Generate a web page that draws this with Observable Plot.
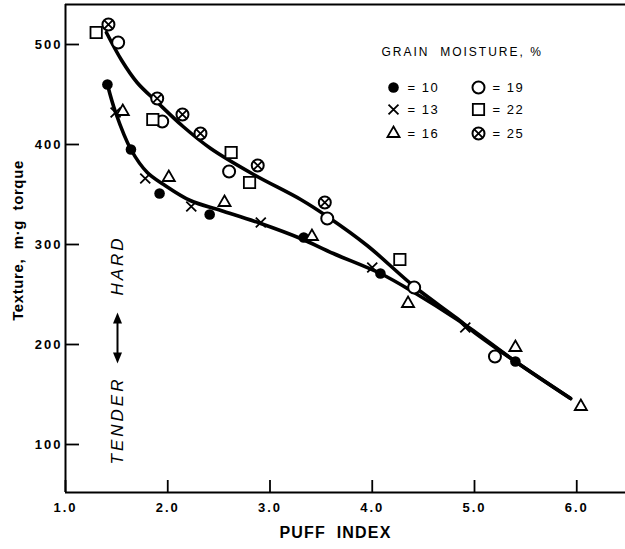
<!DOCTYPE html>
<html><head><meta charset="utf-8">
<script src="https://cdn.jsdelivr.net/npm/d3@7"></script>
<script src="https://cdn.jsdelivr.net/npm/@observablehq/plot@0.6"></script>
<style>body{margin:0;background:#fff}</style>
</head><body><div id="chart"></div>
<script>
// ---- data ----
const xTicks = [1, 2, 3, 4, 5, 6];
const yTicks = [100, 200, 300, 400, 500];

// [puff index, texture]
const moist10 = [[1.41,460],[1.64,395],[1.92,351],[2.41,330],[3.33,307],[4.08,271],[5.40,183]];
const moist13 = [[1.49,432],[1.78,366],[2.23,338],[2.91,322],[4.00,277],[4.91,217]];
const moist16 = [[1.56,433],[2.01,367],[2.555,342],[3.41,308],[4.35,241],[5.40,197],[6.04,138]];
const moist19 = [[1.515,502],[1.946,423],[2.60,373],[3.56,326],[4.41,257],[5.20,188]];
const moist22 = [[1.30,512],[1.854,425],[2.62,392],[2.80,362],[4.27,285]];
const moist25 = [[1.42,520],[1.897,446],[2.144,430],[2.32,411],[2.88,379],[3.536,342]];

const upperCurve = [[1.40,512],[1.55,484],[1.70,462],[1.90,442],[2.15,418],[2.42,396],[2.84,370],[3.30,345],[3.56,328],[3.95,299],[4.41,258],[4.83,226],[5.00,212],[5.40,183],[5.94,146]];
const lowerCurve = [[1.41,460],[1.49,432],[1.64,395],[1.80,372],[1.96,360],[2.22,344],[2.52,334],[2.91,321],[3.30,306],[3.62,291],[4.08,271],[4.41,252],[4.83,225],[5.00,213],[5.40,183],[5.94,146]];

const legendTitle = "GRAIN  MOISTURE, %";
const legendKeys = ["10", "13", "16", "19", "22", "25"];
const xLabel = "PUFF INDEX";
const yLabel = "Texture,  m\u00b7g  torque";
const hardLabel = "HARD";
const tenderLabel = "TENDER";

// ---- layout helpers (pixel -> data for annotations) ----
const px2x = px => 1 + (px - 65) / 102.25;
const px2y = py => 500 - (py - 44);

const X = d => d[0], Y = d => d[1];

function seriesMarks(data, key) {
  const base = {x: X, y: Y};
  switch (key) {
    case "10": return [Plot.dot(data, {...base, r: 5.3, fill: "black", stroke: "none"})];
    case "13": return [Plot.dot(data, {...base, r: 4.6, symbol: "times", stroke: "black", strokeWidth: 1.8})];
    case "16": return [Plot.dot(data, {...base, r: 4.5, symbol: "triangle", fill: "white", stroke: "black", strokeWidth: 1.8})];
    case "19": return [Plot.dot(data, {...base, r: 6, fill: "white", stroke: "black", strokeWidth: 2})];
    case "22": return [Plot.dot(data, {...base, r: 6.4, symbol: "square", fill: "white", stroke: "black", strokeWidth: 1.8})];
    case "25": return [
      Plot.dot(data, {...base, r: 6, fill: "white", stroke: "black", strokeWidth: 2}),
      Plot.dot(data, {...base, r: 4.1, symbol: "times", stroke: "black", strokeWidth: 1.8})
    ];
  }
}
const seriesData = {"10": moist10, "13": moist13, "16": moist16, "19": moist19, "22": moist22, "25": moist25};

// legend layout
const legCol = [393, 478], legRow = [87, 109, 133];
const legendMarks = legendKeys.flatMap((k, i) => {
  const cx = legCol[Math.floor(i / 3)], cy = legRow[i % 3];
  const pos = [[px2x(cx), px2y(cy)]];
  return [
    ...seriesMarks(pos, k),
    Plot.text(pos, {x: X, y: Y, text: () => "= " + k, dx: 14, textAnchor: "start", fontSize: 13})
  ];
});

const arrowUp = {draw(ctx) { ctx.moveTo(0, -7); ctx.lineTo(4.5, 4); ctx.lineTo(-4.5, 4); ctx.closePath(); }};
const ax = px2x(117);

const chart = Plot.plot({
  width: 625, height: 549,
  marginLeft: 65, marginRight: 0, marginTop: 4, marginBottom: 57,
  x: {domain: [1, px2x(625)]},
  y: {domain: [px2y(492), px2y(4)]},
  style: "font-family: 'Liberation Sans', Arial, sans-serif; font-size: 13px; color: black; background: white; letter-spacing: 2px;",
  marks: [
    Plot.ruleX([1], {strokeWidth: 2}),
    Plot.ruleY([px2y(492)], {strokeWidth: 2}),
    Plot.ruleY([px2y(4)], {strokeWidth: 2}),
    Plot.axisX({ticks: xTicks, tickSize: -12, tickPadding: 22, tickFormat: d3.format(".1f"), label: null, fontSize: 13, fontWeight: "bold", strokeWidth: 1.8}),
    Plot.axisY({ticks: yTicks, tickSize: -14, tickPadding: 17, tickFormat: d3.format("d"), label: null, fontSize: 13, fontWeight: "bold", strokeWidth: 1.8}),
    Plot.text([yLabel], {frameAnchor: "left", textAnchor: "middle", dx: -47, dy: -8, rotate: -90, fontSize: 15, fontWeight: "bold"}),
    Plot.text([xLabel], {frameAnchor: "bottom", textAnchor: "middle", lineAnchor: "middle", dx: -10, dy: 40, fontSize: 16, fontWeight: "bold"}),
    Plot.line(upperCurve, {x: X, y: Y, curve: "catmull-rom", strokeWidth: 3.6}),
    Plot.line(lowerCurve, {x: X, y: Y, curve: "catmull-rom", strokeWidth: 3.6}),
    ...legendKeys.flatMap(k => seriesMarks(seriesData[k], k)),
    Plot.text([legendTitle], {x: px2x(381), y: px2y(52), textAnchor: "start", fontSize: 12}),
    ...legendMarks,
    // hard / tender annotation
    Plot.link([[ax, px2y(318), ax, px2y(357)]], {x1: d => d[0], y1: d => d[1], x2: d => d[2], y2: d => d[3], strokeWidth: 2}),
    Plot.dot([[ax, px2y(319)]], {x: X, y: Y, symbol: arrowUp, fill: "black", stroke: "none"}),
    Plot.dot([[ax, px2y(356)]], {x: X, y: Y, symbol: arrowUp, rotate: 180, fill: "black", stroke: "none"}),
    Plot.text([[ax, px2y(265)]], {x: X, y: Y, text: () => hardLabel, rotate: -90, fontSize: 17, fontStyle: "italic"}),
    Plot.text([[ax, px2y(420)]], {x: X, y: Y, text: () => tenderLabel, rotate: -90, fontSize: 17, fontStyle: "italic"})
  ]
});

const svg = d3.select(chart);
svg.selectAll("text").each(function() {
  const t = this.textContent;
  if (t === hardLabel || t === tenderLabel) d3.select(this).style("letter-spacing", "3px");
  if (t === legendTitle) d3.select(this).style("letter-spacing", "2px");
  if (t === xLabel) d3.select(this).style("letter-spacing", "1.2px").style("word-spacing", "5px");
  if (t === yLabel) d3.select(this).style("letter-spacing", "0.6px");
  if (/^= /.test(t)) d3.select(this).style("letter-spacing", "1.5px");
});
document.getElementById("chart").appendChild(chart);
</script>
</body></html>
